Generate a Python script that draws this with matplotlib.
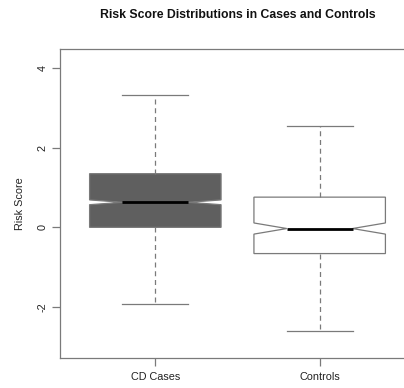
import matplotlib
matplotlib.use("Agg")
import matplotlib.pyplot as plt

plt.rcParams['font.family'] = ['Liberation Sans', 'DejaVu Sans']

groups = ['CD Cases', 'Controls']
whislo = [-1.93, -2.61]
q1 = [0.0, -0.66]
med = [0.63, -0.03]
q3 = [1.35, 0.76]
whishi = [3.33, 2.55]
notch_lo = [0.57, -0.17]
notch_hi = [0.69, 0.11]
fills = ['#5f5f5f', 'white']

stats = []
for i in range(len(groups)):
    stats.append({'label': groups[i], 'whislo': whislo[i], 'q1': q1[i], 'med': med[i],
                  'q3': q3[i], 'whishi': whishi[i], 'cilo': notch_lo[i], 'cihi': notch_hi[i],
                  'fliers': []})

fig = plt.figure(figsize=(4.04, 3.88), dpi=100)
ax = fig.add_axes([60/404, 30/388, 355/404, 309/388])

edge = '#7a7a7a'
bp = ax.bxp(stats, positions=[1, 2], widths=0.8, shownotches=True, patch_artist=True,
            showfliers=False,
            boxprops=dict(edgecolor=edge, linewidth=0.9),
            whiskerprops=dict(color=edge, linestyle=(0, (4, 3)), linewidth=0.9),
            capprops=dict(color=edge, linewidth=0.9),
            medianprops=dict(color='black', linewidth=2.0, solid_capstyle='butt'))
for patch, c in zip(bp['boxes'], fills):
    patch.set_facecolor(c)

ax.set_xlim(0.42, 2.58)
ax.set_ylim(-3.288, 4.488)
ax.set_yticks([-2, 0, 2, 4])
ax.set_yticklabels(['-2', '0', '2', '4'], rotation=90, va='center')
ax.set_xticks([1, 2])
ax.set_xticklabels(groups)
ax.tick_params(colors=edge, labelcolor='#222222', labelsize=7.8, length=6, width=0.9, pad=4)
ax.tick_params(axis='y', pad=3)
for s in ['left', 'bottom', 'top']:
    ax.spines[s].set_color(edge)
    ax.spines[s].set_linewidth(0.9)
ax.spines['right'].set_visible(False)

ax.set_ylabel('Risk Score', fontsize=7.8, color='#222222', labelpad=9)
fig.text(0.5 + 36/404, 1 - 15/388, 'Risk Score Distributions in Cases and Controls',
         ha='center', va='center', fontsize=8.8, fontweight='bold', color='#111111')

fig.savefig('out.png', dpi=100)
